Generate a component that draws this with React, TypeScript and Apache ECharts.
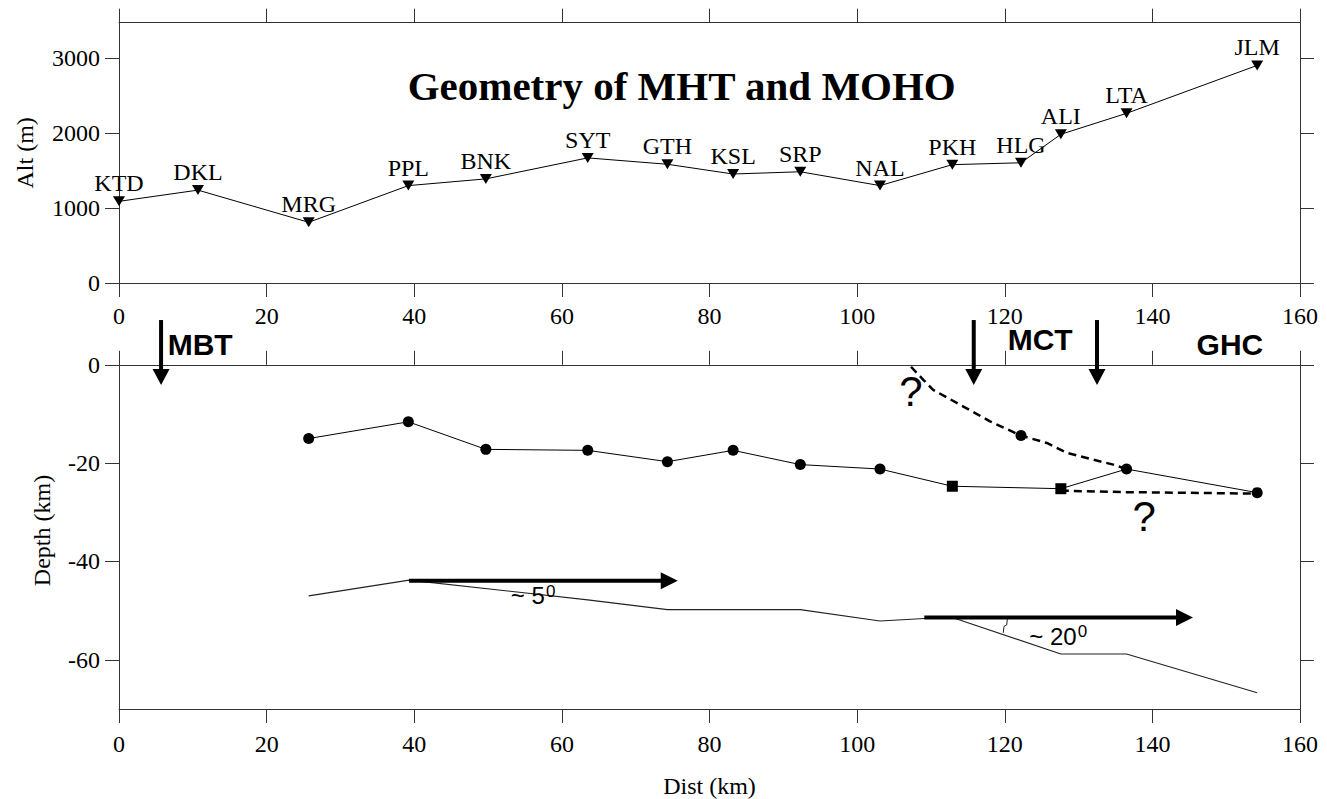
import React, { useEffect, useRef } from "react";
import * as echarts from "echarts";

// Seismic stations along the profile: distance (km) and altitude (m)
const stationNames = ["KTD", "DKL", "MRG", "PPL", "BNK", "SYT", "GTH", "KSL", "SRP", "NAL", "PKH", "HLG", "ALI", "LTA", "JLM"];
const stationDist = [0, 10.7, 25.7, 39.2, 49.7, 63.5, 74.3, 83.2, 92.3, 103.1, 112.9, 122.2, 127.6, 136.5, 154.2];
const stationAlt = [1090, 1240, 810, 1300, 1390, 1670, 1585, 1455, 1485, 1300, 1580, 1605, 1985, 2265, 2905];

// Main Himalayan Thrust picks beneath the stations (depth in km)
const mhtDist = [25.7, 39.2, 49.7, 63.5, 74.3, 83.2, 92.3, 103.1, 112.9, 127.6, 136.5, 154.2];
const mhtDepth = [-15.0, -11.6, -17.2, -17.4, -19.7, -17.4, -20.3, -21.2, -24.7, -25.2, -21.2, -26.0];
const mhtSymbols = ["circle", "circle", "circle", "circle", "circle", "circle", "circle", "circle", "rect", "rect", "circle", "circle"];

// Inferred (dashed) branches of the MHT
const mhtUpperDist = [107.3, 109.0, 110.3, 114.4, 118.0, 122.2, 125.7, 128.4, 132.0, 134.7, 136.5];
const mhtUpperDepth = [-0.4, -3.1, -5.1, -8.5, -11.5, -14.4, -15.9, -17.9, -19.3, -20.3, -21.2];
const mhtUpperPickDist = [122.2];
const mhtUpperPickDepth = [-14.4];
const mhtLowerDist = [127.6, 136.5, 154.2];
const mhtLowerDepth = [-25.6, -25.9, -26.2];

// Moho interface
const mohoDist = [25.7, 39.3, 63.5, 74.3, 92.3, 103.1, 109.1, 112.9, 127.6, 136.5, 154.2];
const mohoDepth = [-47.0, -43.8, -47.8, -49.8, -49.8, -52.1, -51.6, -51.4, -58.8, -58.8, -66.7];

// Small arc marking the dip angle of the steep Moho segment
const arcDist = [120.35, 120.27, 119.9, 119.8];
const arcDepth = [-51.7, -52.9, -53.2, -54.5];

// Axis ticks
const altTicks = [0, 1000, 2000, 3000];
const depthTicks = [-60, -40, -20, 0];

// Annotations in data units (km along profile, km depth)
const faultArrowDist = [5.7, 115.8, 132.5];
const faultArrowTop = 9.1;
const faultArrowTip = -4.1;
const faultNames = ["MBT", "MCT", "GHC"];
const faultNameDist = [11.0, 124.8, 150.5];
const faultNameDepth = [4.1, 5.1, 4.1];
const dipArrowFrom = [39.3, 109.1];
const dipArrowTo = [75.7, 145.5];
const dipArrowDepth = [-43.9, -51.4];
const dipTexts = ["~ 5", "~ 20"];
const dipTextDist = [57.7, 129.75];
const dipTextDepth = [-47.0, -55.2];
const dipSupDepth = [-46.2, -54.2];
const questionDist = [107.3, 138.9];
const questionDepth = [-5.5, -30.9];

const SERIF = '"Liberation Serif", "Times New Roman", Times, serif';
const SANS = '"Liberation Sans", Arial, Helvetica, sans-serif';
const AXIS_COLOR = "#333";

const pairs = (xs: number[], ys: number[]) => xs.map((x, i) => [x, ys[i]]);

function axisCommon() {
  return {
    type: "value" as const,
    axisLine: { show: true, onZero: false, lineStyle: { color: AXIS_COLOR, width: 1 } },
    axisTick: { show: true, inside: false, length: 14, lineStyle: { color: AXIS_COLOR, width: 1 } },
    splitLine: { show: false },
  };
}

export default function App() {
  const ref = useRef<HTMLDivElement>(null);

  useEffect(() => {
    if (!ref.current) return;
    const chart = echarts.init(ref.current, undefined, { renderer: "svg" });

    const labelStyle = { color: "#000", fontFamily: SERIF, fontSize: 24 };
    const distAxis = (gridIndex: number, position: "top" | "bottom", labels: boolean, extra: any = {}) => ({
      ...axisCommon(),
      gridIndex,
      position,
      min: 0,
      max: 160,
      interval: 20,
      axisLabel: { show: labels, ...labelStyle, margin: gridIndex === 0 ? 21 : 23, formatter: (v: number) => String(v) },
      ...extra,
    });

    chart.setOption({
      animation: false,
      backgroundColor: "#fff",
      textStyle: { fontFamily: SERIF },
      grid: [
        { left: 119, right: 27, top: 22.7, height: 260.3 },
        { left: 119, right: 27, top: 352, height: 358.3 },
      ],
      xAxis: [
        distAxis(0, "bottom", true),
        distAxis(0, "top", false),
        distAxis(1, "bottom", true, {
          name: "Dist (km)",
          nameLocation: "middle",
          nameGap: 65,
          nameTextStyle: labelStyle,
        }),
        {
          ...distAxis(1, "top", false),
          axisLine: { show: true, onZero: true, lineStyle: { color: AXIS_COLOR, width: 1 } },
        },
      ],
      yAxis: [
        {
          ...axisCommon(),
          gridIndex: 0,
          position: "left",
          min: 0,
          max: 3475,
          axisTick: { ...axisCommon().axisTick, customValues: altTicks },
          axisLabel: { ...labelStyle, margin: 19, customValues: altTicks, formatter: (v: number) => String(v) },
          name: "Alt (m)",
          nameLocation: "middle",
          nameGap: 82,
          nameTextStyle: labelStyle,
        },
        {
          ...axisCommon(),
          gridIndex: 0,
          position: "right",
          min: 0,
          max: 3475,
          axisTick: { ...axisCommon().axisTick, customValues: altTicks },
          axisLabel: { show: false },
        },
        {
          ...axisCommon(),
          gridIndex: 1,
          position: "left",
          min: -70,
          max: 2.6,
          axisTick: { ...axisCommon().axisTick, customValues: depthTicks },
          axisLabel: { ...labelStyle, margin: 19, customValues: depthTicks, formatter: (v: number) => String(v) },
          name: "Depth (km)",
          nameLocation: "middle",
          nameGap: 65,
          nameTextStyle: labelStyle,
        },
        {
          ...axisCommon(),
          gridIndex: 1,
          position: "right",
          min: -70,
          max: 2.6,
          axisTick: { ...axisCommon().axisTick, customValues: depthTicks },
          axisLabel: { show: false },
        },
      ],
      series: [
        {
          name: "Stations",
          type: "line",
          xAxisIndex: 0,
          yAxisIndex: 0,
          clip: false,
          data: stationDist.map((d, i) => ({ name: stationNames[i], value: [d, stationAlt[i]] })),
          symbol: "triangle",
          symbolRotate: 180,
          symbolSize: [12, 10],
          itemStyle: { color: "#000" },
          lineStyle: { color: "#000", width: 1 },
          label: {
            show: true,
            position: "inside",
            offset: [0, -18],
            formatter: "{b}",
            ...labelStyle,
          },
        },
        {
          name: "MHT",
          type: "line",
          xAxisIndex: 2,
          yAxisIndex: 2,
          data: mhtDist.map((d, i) => ({ value: [d, mhtDepth[i]], symbol: mhtSymbols[i] })),
          symbolSize: 11,
          itemStyle: { color: "#000" },
          lineStyle: { color: "#000", width: 1 },
          z: 4,
        },
        {
          name: "MHT upper (inferred)",
          type: "line",
          xAxisIndex: 2,
          yAxisIndex: 2,
          data: pairs(mhtUpperDist, mhtUpperDepth),
          symbol: "none",
          lineStyle: { color: "#000", width: 2.5, type: [8, 5] },
        },
        {
          name: "MHT upper pick",
          type: "scatter",
          xAxisIndex: 2,
          yAxisIndex: 2,
          data: pairs(mhtUpperPickDist, mhtUpperPickDepth),
          symbol: "circle",
          symbolSize: 11,
          itemStyle: { color: "#000", opacity: 1 },
          z: 5,
        },
        {
          name: "MHT lower (inferred)",
          type: "line",
          xAxisIndex: 2,
          yAxisIndex: 2,
          data: pairs(mhtLowerDist, mhtLowerDepth),
          symbol: "none",
          lineStyle: { color: "#000", width: 2.5, type: [8, 5] },
        },
        {
          name: "Moho",
          type: "line",
          xAxisIndex: 2,
          yAxisIndex: 2,
          data: pairs(mohoDist, mohoDepth),
          symbol: "none",
          lineStyle: { color: "#222", width: 1.1 },
        },
        {
          name: "Dip arc",
          type: "line",
          xAxisIndex: 2,
          yAxisIndex: 2,
          data: pairs(arcDist, arcDepth),
          symbol: "none",
          lineStyle: { color: "#222", width: 1 },
        },
      ],
    });

    const toPx = (d: number, z: number) =>
      chart.convertToPixel({ xAxisIndex: 2, yAxisIndex: 2 } as any, [d, z]) as unknown as number[];

    const graphics: any[] = [];
    const text = (x: number, y: number, t: string, font: string, align = "center") => ({
      type: "text",
      x,
      y,
      z: 100,
      style: {
        text: t,
        font,
        fill: "#000",
        align,
        verticalAlign: "middle",
        textAlign: align,
        textVerticalAlign: "middle",
      },
    });

    // Title
    graphics.push(text(681.7, 86, "Geometry of MHT and MOHO", `bold 41px ${SERIF}`));

    // Fault arrows pointing down to the surface trace
    faultArrowDist.forEach((d) => {
      const [x, y0] = toPx(d, faultArrowTop);
      const [, yTip] = toPx(d, faultArrowTip);
      graphics.push({
        type: "line",
        z: 100,
        shape: { x1: x, y1: y0, x2: x, y2: yTip - 14 },
        style: { stroke: "#000", lineWidth: 4 },
      });
      graphics.push({
        type: "polygon",
        z: 100,
        shape: { points: [[x - 8.5, yTip - 16], [x + 8.5, yTip - 16], [x, yTip]] },
        style: { fill: "#000" },
      });
    });
    faultNames.forEach((n, i) => {
      const [x, y] = toPx(faultNameDist[i], faultNameDepth[i]);
      graphics.push(text(x, y, n, `bold 30px ${SANS}`));
    });

    // Horizontal reference arrows for the Moho dip
    dipArrowFrom.forEach((d, i) => {
      const [x0, y] = toPx(d, dipArrowDepth[i]);
      const [xTip] = toPx(dipArrowTo[i], dipArrowDepth[i]);
      graphics.push({
        type: "line",
        z: 100,
        shape: { x1: x0, y1: y, x2: xTip - 15, y2: y },
        style: { stroke: "#000", lineWidth: 4 },
      });
      graphics.push({
        type: "polygon",
        z: 100,
        shape: { points: [[xTip - 17, y - 8.5], [xTip - 17, y + 8.5], [xTip, y]] },
        style: { fill: "#000" },
      });
    });
    dipTexts.forEach((t, i) => {
      const [x, y] = toPx(dipTextDist[i], dipTextDepth[i]);
      const [, ys] = toPx(dipTextDist[i], dipSupDepth[i]);
      graphics.push(text(x, y, t, `24px ${SANS}`, "right"));
      graphics.push(text(x + 1, ys, "0", `17px ${SANS}`, "left"));
    });

    // Uncertainty marks on the inferred branches
    questionDist.forEach((d, i) => {
      const [x, y] = toPx(d, questionDepth[i]);
      graphics.push(text(x, y, "?", `42px ${SANS}`));
    });

    chart.setOption({ graphic: graphics });

    return () => chart.dispose();
  }, []);

  return <div ref={ref} style={{ position: "absolute", left: 0, top: 0, width: 1327, height: 799 }} />;
}
